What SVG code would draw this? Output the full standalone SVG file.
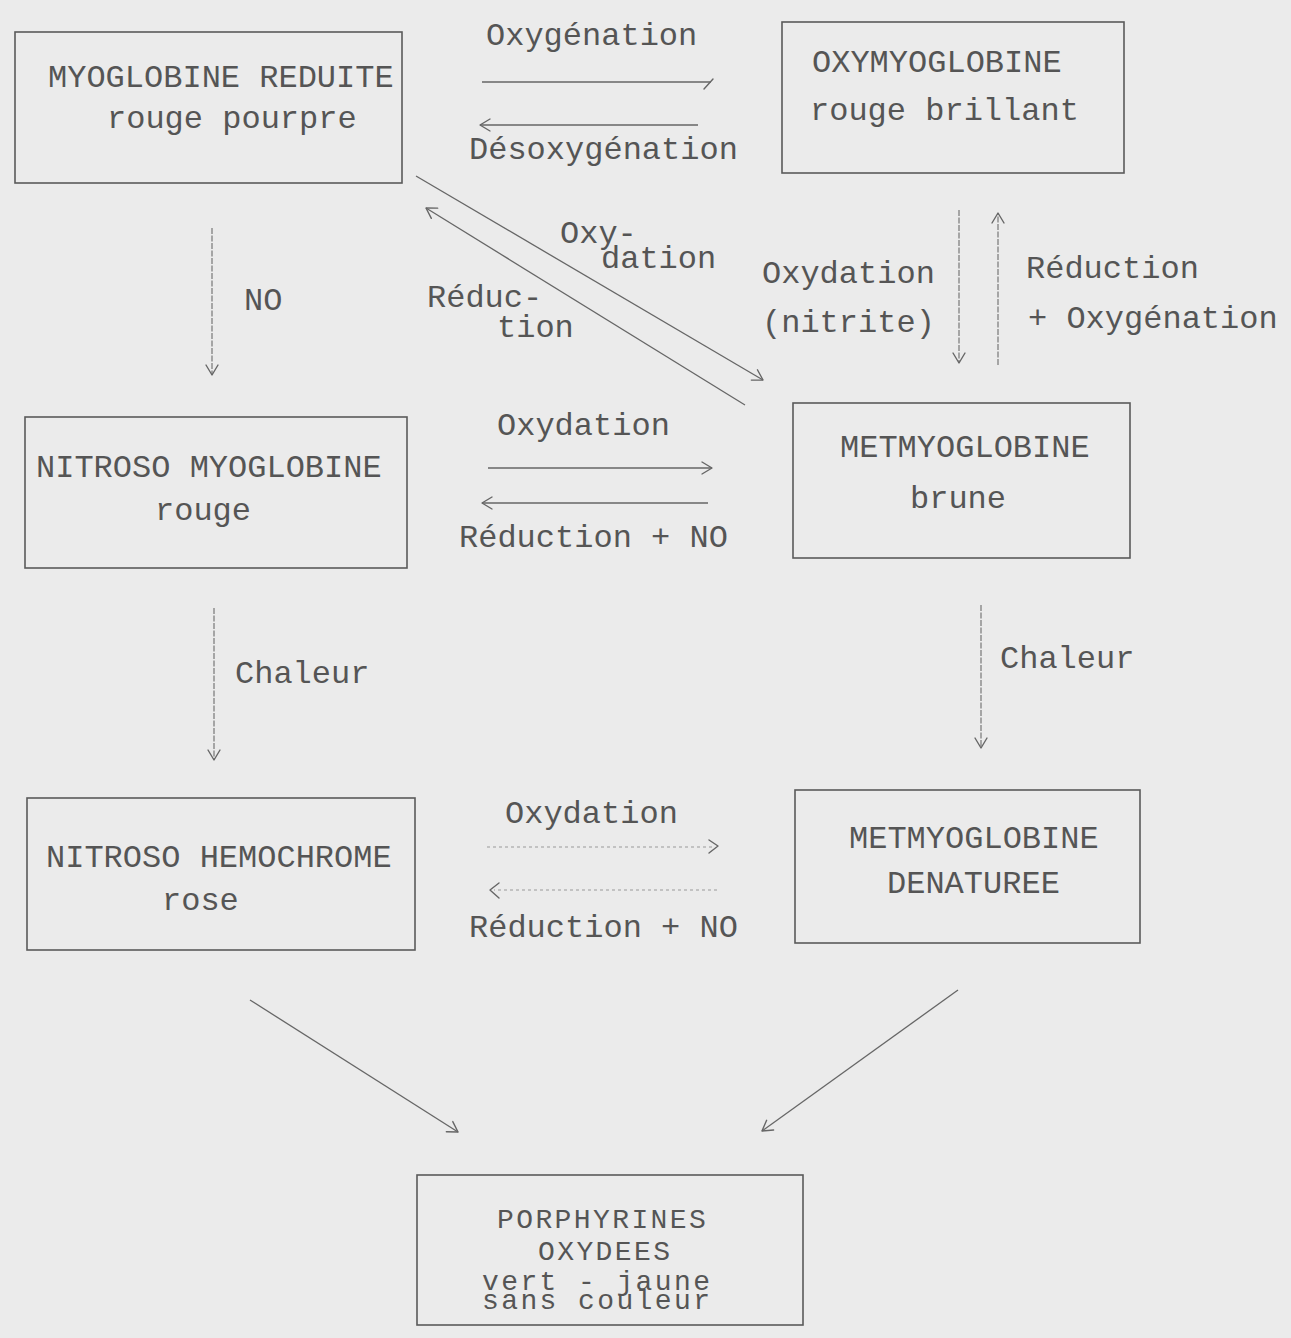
<svg xmlns="http://www.w3.org/2000/svg" width="1291" height="1338" viewBox="0 0 1291 1338">
<style>
  text { font-family: "Liberation Mono", "DejaVu Sans Mono", monospace; font-size: 32px; fill: #555555; }
  text.small { font-size: 28px; letter-spacing: 2.4px; }
  .box { fill: none; stroke: #5a5a5a; stroke-width: 1.6; }
  .ln { fill: none; stroke: #666; stroke-width: 1.3; }
  .dot { fill: none; stroke: #777; stroke-width: 1.2; stroke-dasharray: 6 1.5; }
  .faint { fill: none; stroke: #999; stroke-width: 1.2; stroke-dasharray: 3 3; }
  .hd { fill: none; stroke: #666; stroke-width: 1.4; stroke-linecap: round; stroke-linejoin: round; }
</style>
<defs>
  <marker id="ah" markerUnits="userSpaceOnUse" markerWidth="24" markerHeight="24" viewBox="-12 -12 24 24" refX="0" refY="0" orient="auto" overflow="visible">
    <path d="M-10,-6 L0,0 L-10,6" fill="none" stroke="#666" stroke-width="1.4" stroke-linecap="round" stroke-linejoin="round"/>
  </marker>
</defs>
<rect width="1291" height="1338" fill="#ebebeb"/>

<g id="connectors">
  <!-- Oxygénation / Désoxygénation -->
  <line class="ln" x1="482" y1="82" x2="711" y2="82"/>
  <path class="hd" d="M704,89 L713,79"/>
  <line class="ln" x1="698" y1="125" x2="480" y2="125" marker-end="url(#ah)"/>
  <!-- diagonals Oxydation / Réduction -->
  <line class="ln" x1="416" y1="176" x2="763" y2="380" marker-end="url(#ah)"/>
  <line class="ln" x1="745" y1="405" x2="426" y2="208" marker-end="url(#ah)"/>
  <!-- NO -->
  <line class="dot" x1="212" y1="228" x2="212" y2="375" marker-end="url(#ah)"/>
  <!-- OXYMYOGLOBINE <-> METMYOGLOBINE -->
  <line class="dot" x1="959" y1="210" x2="959" y2="363" marker-end="url(#ah)"/>
  <line class="dot" x1="998" y1="365" x2="998" y2="213" marker-end="url(#ah)"/>
  <!-- middle Oxydation / Réduction + NO -->
  <line class="ln" x1="488" y1="468" x2="712" y2="468" marker-end="url(#ah)"/>
  <line class="ln" x1="708" y1="503" x2="482" y2="503" marker-end="url(#ah)"/>
  <!-- Chaleur -->
  <line class="dot" x1="214" y1="608" x2="214" y2="760" marker-end="url(#ah)"/>
  <line class="dot" x1="981" y1="605" x2="981" y2="748" marker-end="url(#ah)"/>
  <!-- bottom Oxydation / Réduction + NO -->
  <line class="faint" x1="487" y1="847" x2="712" y2="847"/>
  <path class="hd" d="M709,840 L718,846 L709,853"/>
  <line class="faint" x1="717" y1="890" x2="494" y2="890"/>
  <path class="hd" d="M499,883 L490,890 L499,898"/>
  <!-- to PORPHYRINES -->
  <line class="ln" x1="250" y1="1000" x2="458" y2="1132" marker-end="url(#ah)"/>
  <line class="ln" x1="958" y1="990" x2="762" y2="1131" marker-end="url(#ah)"/>
</g>

<g id="labels">
  <text x="486" y="45">Oxygénation</text>
  <text x="469" y="159">Désoxygénation</text>
  <text><tspan x="560" y="243">Oxy-</tspan><tspan x="601" y="268">dation</tspan></text>
  <text><tspan x="427" y="307">Réduc-</tspan><tspan x="497" y="337">tion</tspan></text>
  <text x="244" y="310">NO</text>
  <text><tspan x="762" y="283">Oxydation</tspan><tspan x="762" y="332">(nitrite)</tspan></text>
  <text><tspan x="1026" y="278">Réduction</tspan><tspan x="1028" y="328">+ Oxygénation</tspan></text>
  <text x="497" y="435">Oxydation</text>
  <text x="459" y="547">Réduction + NO</text>
  <text x="235" y="683">Chaleur</text>
  <text x="1000" y="668">Chaleur</text>
  <text x="505" y="823">Oxydation</text>
  <text x="469" y="937">Réduction + NO</text>
</g>

<g id="myoglobine-reduite">
  <rect class="box" x="15" y="32" width="387" height="151"/>
  <text><tspan x="48" y="87">MYOGLOBINE REDUITE</tspan><tspan x="107" y="128">rouge pourpre</tspan></text>
</g>
<g id="oxymyoglobine">
  <rect class="box" x="782" y="22" width="342" height="151"/>
  <text><tspan x="812" y="72">OXYMYOGLOBINE</tspan><tspan x="810" y="120">rouge brillant</tspan></text>
</g>
<g id="nitroso-myoglobine">
  <rect class="box" x="25" y="417" width="382" height="151"/>
  <text><tspan x="36" y="477">NITROSO MYOGLOBINE</tspan><tspan x="155" y="520">rouge</tspan></text>
</g>
<g id="metmyoglobine">
  <rect class="box" x="793" y="403" width="337" height="155"/>
  <text><tspan x="840" y="457">METMYOGLOBINE</tspan><tspan x="910" y="508">brune</tspan></text>
</g>
<g id="nitroso-hemochrome">
  <rect class="box" x="27" y="798" width="388" height="152"/>
  <text><tspan x="46" y="867">NITROSO HEMOCHROME</tspan><tspan x="162" y="910">rose</tspan></text>
</g>
<g id="metmyoglobine-denaturee">
  <rect class="box" x="795" y="790" width="345" height="153"/>
  <text><tspan x="849" y="848">METMYOGLOBINE</tspan><tspan x="887" y="893">DENATUREE</tspan></text>
</g>
<g id="porphyrines-oxydees">
  <rect class="box" x="417" y="1175" width="386" height="150"/>
  <text class="small"><tspan x="497" y="1228">PORPHYRINES</tspan><tspan x="538" y="1260">OXYDEES</tspan><tspan x="482" y="1290">vert - jaune</tspan><tspan x="482" y="1309">sans couleur</tspan></text>
</g>
</svg>
